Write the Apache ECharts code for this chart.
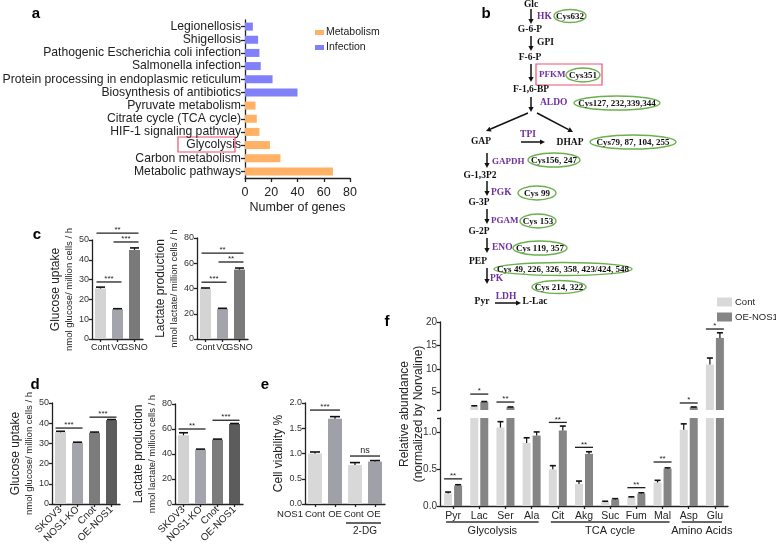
<!DOCTYPE html>
<html>
<head>
<meta charset="utf-8">
<script src="https://cdn.jsdelivr.net/npm/echarts@6/dist/echarts.min.js"></script>
<style>
html, body { margin: 0; padding: 0; background: #fff; }
#chart { width: 776px; height: 546px; }
</style>
</head>
<body>
<div id="chart"></div>
<script>
// ---- a: KEGG terms
var keggTerms = ['Legionellosis', 'Shigellosis', 'Pathogenic Escherichia coli infection', 'Salmonella infection',
    'Protein processing in endoplasmic reticulum', 'Biosynthesis of antibiotics', 'Pyruvate metabolism',
    'Citrate cycle (TCA cycle)', 'HIF-1 signaling pathway', 'Glycolysis', 'Carbon metabolism', 'Metabolic pathways'];
var keggMetabolism = ['-', '-', '-', '-', '-', '-', 8, 9, 11, 19, 27, 67];
var keggInfection = [6, 10, 11, 12, 21, 40, '-', '-', '-', '-', '-', '-'];
var geneTicks = [0, 20, 40, 60, 80];

// ---- c: Cont / VC / GSNO
var cCats = ['Cont', 'VC', 'GSNO'];
var glucoseC = [25.5, 15, 45];
var glucoseCErr = [0.7, 0.3, 1];
var lactateC = [40, 24, 55];
var lactateCErr = [0.4, 0.3, 1.2];
var sigGlucoseC = [[0, 1, 28.8, '***'], [1, 2, 49, '***'], [0, 2, 53.5, '**']];
var sigLactateC = [[0, 1, 45, '***'], [1, 2, 61, '**'], [0, 2, 68, '**']];

// ---- d: knockout / overexpression
var dCats = ['SKOV3', 'NOS1-KO', 'Cnot', 'OE-NOS1'];
var glucoseD = [35.5, 30.3, 35.3, 41.5];
var glucoseDErr = [0.5, 0.3, 0.3, 0.3];
var lactateD = [55, 43.5, 51.5, 64];
var lactateDErr = [2, 0.4, 0.4, 0.4];
var sigGlucoseD = [[0, 1, 37.6, '***'], [2, 3, 43, '***']];
var sigLactateD = [[0, 1, 60, '**'], [2, 3, 67, '***']];

// ---- e: cell viability
var eCats = ['Cont', 'OE', 'Cont ', 'OE '];
var viability = [1.0, 1.69, 0.77, 0.84];
var viabilityErr = [0.03, 0.04, 0.05, 0.02];
var sigViability = [[0, 1, 1.86, '***'], [2, 3, 0.95, 'ns']];

// ---- f: metabolites
var metabolites = ['Pyr', 'Lac', 'Ser', 'Ala', 'Cit', 'Akg', 'Suc', 'Fum', 'Mal', 'Asp', 'Glu'];
var fCont = [0.17, 2.0, 1.07, 0.86, 0.5, 0.3, 0.06, 0.12, 0.32, 1.04, 10.9];
var fContErr = [0.02, 0.1, 0.08, 0.07, 0.05, 0.04, 0.005, 0.005, 0.03, 0.08, 1.4];
var fOE = [0.28, 2.9, 1.8, 0.96, 1.03, 0.71, 0.09, 0.17, 0.51, 1.8, 16.6];
var fOEErr = [0.01, 0.1, 0.05, 0.05, 0.06, 0.03, 0.01, 0.01, 0.01, 0.05, 1.1];
var fGroups = [[0, 3, 'Glycolysis'], [4, 8, 'TCA cycle'], [9, 10, 'Amino Acids']];
var sigLow = [[0, 0, 0.37, '**'], [4, 4, 1.14, '**'], [5, 5, 0.8, '**'], [7, 7, 0.25, '**'], [8, 8, 0.6, '**']];
var sigHigh = [[1, 1, 4.6, '*'], [2, 2, 2.9, '**'], [9, 9, 2.7, '*'], [10, 10, 18.5, '*']];
var fBreak = 1.2;

var FONT = 'Liberation Sans, Arial, sans-serif';
var INK = '#222';

var myChart = echarts.init(document.getElementById('chart'));

function axisLine() { return { lineStyle: { color: INK, width: 1.3 } }; }
function axisTick(len) { return { show: true, length: len || 3, alignWithLabel: true, lineStyle: { color: INK, width: 1.3 } }; }

function catX(gi, cats, extra) {
    var ax = {
        type: 'category', gridIndex: gi, data: cats,
        axisLine: axisLine(), axisTick: axisTick(3),
        axisLabel: { color: INK, fontSize: 9.5, fontFamily: FONT, margin: 4, interval: 0 }
    };
    return Object.assign(ax, extra || {});
}

function valY(gi, max, interval, name, gap, extra) {
    var ax = {
        type: 'value', gridIndex: gi, min: 0, max: max, interval: interval,
        splitLine: { show: false }, axisLine: Object.assign({ show: true }, axisLine()), axisTick: axisTick(3),
        axisLabel: { color: '#333', fontSize: 9, fontFamily: FONT, margin: 3 },
        name: name, nameLocation: 'middle', nameRotate: 90, nameGap: gap,
        nameTextStyle: {
            color: INK, fontFamily: FONT, lineHeight: 13,
            rich: {
                t: { fontSize: 12, fontFamily: FONT, color: INK, lineHeight: 14 },
                s: { fontSize: 9.5, fontFamily: FONT, color: INK, lineHeight: 12 }
            }
        }
    };
    return Object.assign(ax, extra || {});
}

function colorBars(gi, vals, colors, width) {
    return {
        type: 'bar', xAxisIndex: gi, yAxisIndex: gi, barWidth: width, silent: true,
        data: vals.map(function(v, i) { return { value: v, itemStyle: { color: colors[i] } }; })
    };
}

// 误差线 (只画上半)
function errorBars(gi, vals, errs, offset, cap, filter) {
    var data = [];
    vals.forEach(function(v, i) {
        if (!filter || filter(v)) data.push([i, v, errs[i]]);
    });
    return {
        type: 'custom', xAxisIndex: gi, yAxisIndex: gi, silent: true, z: 5, clip: false,
        data: data,
        renderItem: function(params, api) {
            var base = api.coord([api.value(0), api.value(1)]);
            var top = api.coord([api.value(0), api.value(1) + api.value(2)]);
            var x = base[0] + offset;
            return {
                type: 'group', children: [
                    { type: 'line', shape: { x1: x, y1: base[1], x2: x, y2: top[1] }, style: { stroke: '#111', lineWidth: 1.2 } },
                    { type: 'line', shape: { x1: x - cap / 2, y1: top[1], x2: x + cap / 2, y2: top[1] }, style: { stroke: '#111', lineWidth: 1.6 } }
                ]
            };
        }
    };
}

// 显著性标注
function sigMarks(gi, items, pad, fs) {
    return {
        type: 'custom', xAxisIndex: gi, yAxisIndex: gi, silent: true, z: 6, clip: false,
        data: items.map(function(d) { return [d[0], d[1], d[2]]; }),
        renderItem: function(params, api) {
            var a = api.coord([api.value(0), api.value(2)]);
            var b = api.coord([api.value(1), api.value(2)]);
            var label = items[params.dataIndex][3];
            return {
                type: 'group', children: [
                    { type: 'line', shape: { x1: a[0] - pad, y1: a[1], x2: b[0] + pad, y2: a[1] }, style: { stroke: INK, lineWidth: 1.3 } },
                    { type: 'text', x: (a[0] + b[0]) / 2, y: a[1] - (label === 'ns' ? 1 : -1),
                      style: { text: label, fill: INK, fontSize: label === 'ns' ? 9 : fs, fontFamily: FONT, align: 'center', verticalAlign: 'bottom' } }
                ]
            };
        }
    };
}

// 分组横线 + 组名
function groupBrackets(gi, items, lineOff, textOff, padL, padR, fs) {
    return {
        type: 'custom', xAxisIndex: gi, yAxisIndex: gi, silent: true, clip: false,
        data: items.map(function(d) { return [d[0], d[1]]; }),
        renderItem: function(params, api) {
            var a = api.coord([api.value(0), 0]);
            var b = api.coord([api.value(1), 0]);
            return {
                type: 'group', children: [
                    { type: 'line', shape: { x1: a[0] - padL, y1: a[1] + lineOff, x2: b[0] + padR, y2: a[1] + lineOff }, style: { stroke: '#333', lineWidth: 1.3 } },
                    { type: 'text', x: (a[0] + b[0]) / 2, y: a[1] + textOff,
                      style: { text: items[params.dataIndex][2], fill: INK, fontSize: fs, fontFamily: FONT, align: 'center', verticalAlign: 'middle' } }
                ]
            };
        }
    };
}

// ---------- 通路图 (b) ----------
var PURPLE = '#7030A0', GREEN = '#6AB04C';
var SERIF = 'Liberation Serif, Times New Roman, serif';
function txt(x, y, s, color, size, align) {
    return { type: 'text', x: x, y: y, style: { text: s, fill: color || '#111', font: 'bold ' + (size || 9.5) + 'px ' + SERIF, align: align || 'center', verticalAlign: 'middle' } };
}
function ell(cx, cy, rx, ry, s) {
    return [
        { type: 'ellipse', shape: { cx: cx, cy: cy, rx: rx, ry: ry }, style: { fill: 'none', stroke: GREEN, lineWidth: 1.4 } },
        txt(cx, cy + 0.5, s, '#111', 9)
    ];
}
function arrow(x1, y1, x2, y2) {
    var ang = Math.atan2(y2 - y1, x2 - x1), L = 5, W = 2.6;
    var bx = x2 - L * Math.cos(ang), by = y2 - L * Math.sin(ang);
    var px = -Math.sin(ang) * W, py = Math.cos(ang) * W;
    return [
        { type: 'line', shape: { x1: x1, y1: y1, x2: bx, y2: by }, style: { stroke: '#111', lineWidth: 1.5 } },
        { type: 'polygon', shape: { points: [[x2, y2], [bx + px, by + py], [bx - px, by - py]] }, style: { fill: '#111' } }
    ];
}

var pathway = [].concat(
    txt(531, 5, 'Glc'),
    arrow(531, 9, 531, 24),
    txt(537, 17, 'HK', PURPLE, 9.5, 'left'),
    ell(570, 16, 16, 6.5, 'Cys632'),
    txt(530, 30, 'G-6-P'),
    arrow(531, 36, 531, 51),
    txt(537, 43, 'GPI', '#111', 9.5, 'left'),
    txt(530, 58, 'F-6-P'),
    arrow(531, 64, 531, 82),
    [{ type: 'rect', shape: { x: 536, y: 64, width: 66, height: 21 }, style: { fill: 'none', stroke: '#F0506E', lineWidth: 1.2 } }],
    txt(539, 75, 'PFKM', PURPLE, 9, 'left'),
    ell(583, 75, 17, 7, 'Cys351'),
    txt(531, 90, 'F-1,6-BP'),
    txt(540, 103, 'ALDO', PURPLE, 9.5, 'left'),
    ell(617, 103, 43, 7, 'Cys127, 232,339,344'),
    arrow(531, 97, 531, 112),
    arrow(528, 113, 486, 131),
    arrow(537, 113, 573, 132),
    txt(481, 142, 'GAP'),
    txt(528, 135, 'TPI', PURPLE),
    arrow(521, 142, 545, 142),
    txt(570, 143, 'DHAP'),
    ell(633, 142, 43, 7, 'Cys79, 87, 104, 255'),
    arrow(487, 153, 487, 168),
    txt(492, 162, 'GAPDH', PURPLE, 9, 'left'),
    ell(554, 160, 26, 7, 'Cys156, 247'),
    txt(480, 176, 'G-1,3P2'),
    arrow(487, 181, 487, 196),
    txt(491, 193, 'PGK', PURPLE, 9.5, 'left'),
    ell(537, 193, 19, 7, 'Cys 99'),
    txt(479, 203, 'G-3P'),
    arrow(487, 209, 487, 224),
    txt(491, 221, 'PGAM', PURPLE, 9, 'left'),
    ell(538, 221, 18, 7, 'Cys 153'),
    txt(479, 232, 'G-2P'),
    arrow(487, 238, 487, 253),
    txt(492, 248, 'ENO', PURPLE, 9.5, 'left'),
    ell(540, 248, 27, 7, 'Cys 119, 357'),
    txt(478, 262, 'PEP'),
    ell(563, 269, 69, 6.5, 'Cys 49, 226, 326, 358, 423/424, 548'),
    arrow(487, 268, 487, 284),
    txt(490, 279, 'PK', PURPLE, 9.5, 'left'),
    ell(559, 287, 27, 6.5, 'Cys 214, 322'),
    txt(482, 302, 'Pyr'),
    txt(506, 297, 'LDH', PURPLE),
    arrow(495, 303, 521, 303),
    txt(535, 302, 'L-Lac')
);

function panelLabel(x, y, s) {
    return { type: 'text', x: x, y: y, style: { text: s, fill: '#000', font: 'bold 15px ' + FONT, align: 'center', verticalAlign: 'middle' } };
}

var graphics = [
    panelLabel(36, 14, 'a'), panelLabel(486, 14, 'b'), panelLabel(37, 235, 'c'),
    panelLabel(35, 385, 'd'), panelLabel(265, 385, 'e'), panelLabel(387, 322, 'f'),
    { type: 'rect', shape: { x: 178, y: 137, width: 57, height: 15 }, style: { fill: 'none', stroke: '#F0506E', lineWidth: 1.2 } },
    { type: 'text', x: 290, y: 514, style: { text: 'NOS1', fill: INK, fontSize: 9.5, fontFamily: FONT, align: 'center', verticalAlign: 'middle' } },
    { type: 'text', x: 405, y: 414, rotation: Math.PI / 2, style: { text: 'Relative abundance', fill: INK, fontSize: 12, fontFamily: FONT, align: 'center', verticalAlign: 'middle' } },
    { type: 'text', x: 419, y: 414, rotation: Math.PI / 2, style: { text: '(normalized by Norvaline)', fill: INK, fontSize: 12, fontFamily: FONT, align: 'center', verticalAlign: 'middle' } }
].concat(pathway);

var cColors = ['#D4D4D4', '#A4A4AC', '#7A7A7A'];
var dColors = ['#D2D2D2', '#A4A4AC', '#7C7C7C', '#5C5C5C'];
var eColors = ['#D8D8D8', '#A0A0A8', '#D8D8D8', '#A0A0A8'];
var C_CONT = '#D9D9D9', C_OE = '#858585';

var fLowCont = fCont.slice();
var fLowOE = fOE.slice();
var fHighCont = fCont.map(function(v) { return v > fBreak ? v : '-'; });
var fHighOE = fOE.map(function(v) { return v > fBreak ? v : '-'; });
function above(v) { return v > fBreak; }
function below(v) { return v <= fBreak; }

var rotLabel = { color: INK, fontSize: 10, fontFamily: FONT, rotate: 45, margin: 4, interval: 0 };

var option = {
    animation: false,
    textStyle: { fontFamily: FONT },
    graphic: graphics,
    legend: [
        {
            data: ['Metabolism', 'Infection'], orient: 'vertical', left: 310, top: 22,
            itemWidth: 9, itemHeight: 5, itemGap: 4, icon: 'rect',
            textStyle: { fontSize: 10.5, color: INK, fontFamily: FONT, padding: [0, 0, 0, -3] }
        },
        {
            data: ['Cont', 'OE-NOS1'], orient: 'vertical', left: 712, top: 292,
            itemWidth: 15, itemHeight: 9, itemGap: 5, icon: 'rect',
            textStyle: { fontSize: 9.5, color: INK, fontFamily: FONT, padding: [0, 0, 0, -2] }
        }
    ],
    grid: [
        { left: 245, top: 20, width: 105, height: 158 },
        { left: 92, top: 240, width: 51, height: 99 },
        { left: 197, top: 238, width: 51, height: 101 },
        { left: 52, top: 403, width: 68, height: 101 },
        { left: 175, top: 404, width: 68, height: 100 },
        { left: 305, top: 403, width: 80, height: 101 },
        { left: 440, top: 322, width: 288, height: 88 },
        { left: 440, top: 418, width: 288, height: 88 }
    ].map(function(g) { return Object.assign({ containLabel: false, outerBoundsMode: 'none' }, g); }),
    xAxis: [
        {
            type: 'value', gridIndex: 0, min: geneTicks[0], max: geneTicks[geneTicks.length - 1], interval: 20,
            splitLine: { show: false }, axisLine: Object.assign({ show: true }, axisLine()), axisTick: axisTick(4),
            axisLabel: { color: INK, fontSize: 12.5, fontFamily: FONT, margin: 8 },
            name: 'Number of genes', nameLocation: 'middle', nameGap: 23,
            nameTextStyle: { color: INK, fontSize: 12.5, fontFamily: FONT }
        },
        catX(1, cCats, { axisLabel: { color: INK, fontSize: 9, fontFamily: FONT, margin: 4, interval: 0 } }),
        catX(2, cCats, { axisLabel: { color: INK, fontSize: 9, fontFamily: FONT, margin: 4, interval: 0 } }),
        catX(3, dCats, { axisLabel: rotLabel }),
        catX(4, dCats, { axisLabel: rotLabel }),
        catX(5, eCats, { axisLabel: { color: INK, fontSize: 9.5, fontFamily: FONT, margin: 5, interval: 0 } }),
        catX(6, metabolites, { show: false }),
        catX(7, metabolites, { axisLabel: { color: INK, fontSize: 10.5, fontFamily: FONT, margin: 5, interval: 0 } })
    ],
    yAxis: [
        {
            type: 'category', gridIndex: 0, data: keggTerms, inverse: true,
            axisLine: axisLine(), axisTick: axisTick(4),
            axisLabel: { color: INK, fontSize: 12.2, fontFamily: FONT, margin: 4, interval: 0 }
        },
        valY(1, 50, 10, '{t|Glucose uptake}\n{s|nmol glucose/ million cells / h}', 16),
        valY(2, 80, 20, '{t|Lactate production}\n{s|nmol lactate/ million cells / h}', 14),
        valY(3, 50, 10, '{t|Glucose uptake}\n{s|nmol glucose/ million cells / h}', 13),
        valY(4, 80, 20, '{t|Lactate production}\n{s|nmol lactate/ million cells / h}', 14),
        valY(5, 2, 0.5, '{t|Cell viability %}', 16, {
            axisLabel: { color: '#333', fontSize: 9, fontFamily: FONT, margin: 3, formatter: function(v) { return v.toFixed(1); } }
        }),
        valY(6, 20, 5, '', 0, {
            min: fBreak,
            axisTick: { show: true, length: 3, lineStyle: { color: INK, width: 1.3 }, customValues: [fBreak, 5, 10, 15, 20] },
            axisLabel: { color: '#333', fontSize: 10, fontFamily: FONT, margin: 3, customValues: [5, 10, 15, 20] }
        }),
        valY(7, fBreak, 0.5, '', 0, {
            axisTick: { show: true, length: 3, lineStyle: { color: INK, width: 1.3 }, customValues: [0, 0.5, 1, fBreak] },
            axisLabel: { color: '#333', fontSize: 10, fontFamily: FONT, margin: 3, customValues: [0, 0.5, 1],
                formatter: function(v) { return v.toFixed(1); } }
        })
    ],
    series: [
        { name: 'Metabolism', type: 'bar', stack: 'kegg', xAxisIndex: 0, yAxisIndex: 0, barWidth: 8, data: keggMetabolism, itemStyle: { color: '#FFB266' }, silent: true },
        { name: 'Infection', type: 'bar', stack: 'kegg', xAxisIndex: 0, yAxisIndex: 0, barWidth: 8, data: keggInfection, itemStyle: { color: '#8080F8' }, silent: true },

        colorBars(1, glucoseC, cColors, 11),
        errorBars(1, glucoseC, glucoseCErr, 0, 9),
        sigMarks(1, sigGlucoseC, 4, 8),
        colorBars(2, lactateC, cColors, 11),
        errorBars(2, lactateC, lactateCErr, 0, 9),
        sigMarks(2, sigLactateC, 4, 8),

        colorBars(3, glucoseD, dColors, 11),
        errorBars(3, glucoseD, glucoseDErr, 0, 9),
        sigMarks(3, sigGlucoseD, 5, 8),
        colorBars(4, lactateD, dColors, 11),
        errorBars(4, lactateD, lactateDErr, 0, 9),
        sigMarks(4, sigLactateD, 5, 8),

        colorBars(5, viability, eColors, 14),
        errorBars(5, viability, viabilityErr, 0, 10),
        sigMarks(5, sigViability, 5, 8),
        groupBrackets(5, [[2, 3, '2-DG']], 19, 27, 9, 6, 10),

        { name: 'Cont', type: 'bar', xAxisIndex: 6, yAxisIndex: 6, barWidth: 8, barGap: '25%', clip: true, data: fHighCont, itemStyle: { color: C_CONT }, silent: true },
        { name: 'OE-NOS1', type: 'bar', xAxisIndex: 6, yAxisIndex: 6, barWidth: 8, barGap: '25%', clip: true, data: fHighOE, itemStyle: { color: C_OE }, silent: true },
        { name: 'Cont', type: 'bar', xAxisIndex: 7, yAxisIndex: 7, barWidth: 8, barGap: '25%', clip: true, data: fLowCont, itemStyle: { color: C_CONT }, silent: true },
        { name: 'OE-NOS1', type: 'bar', xAxisIndex: 7, yAxisIndex: 7, barWidth: 8, barGap: '25%', clip: true, data: fLowOE, itemStyle: { color: C_OE }, silent: true },
        errorBars(6, fCont, fContErr, -5, 6, above),
        errorBars(6, fOE, fOEErr, 5, 6, above),
        errorBars(7, fCont, fContErr, -5, 6, below),
        errorBars(7, fOE, fOEErr, 5, 6, below),
        sigMarks(6, sigHigh, 9, 8),
        sigMarks(7, sigLow, 9, 8),
        groupBrackets(7, fGroups, 16, 25, 7, 7, 11)
    ]
};

myChart.setOption(option);
</script>
</body>
</html>
